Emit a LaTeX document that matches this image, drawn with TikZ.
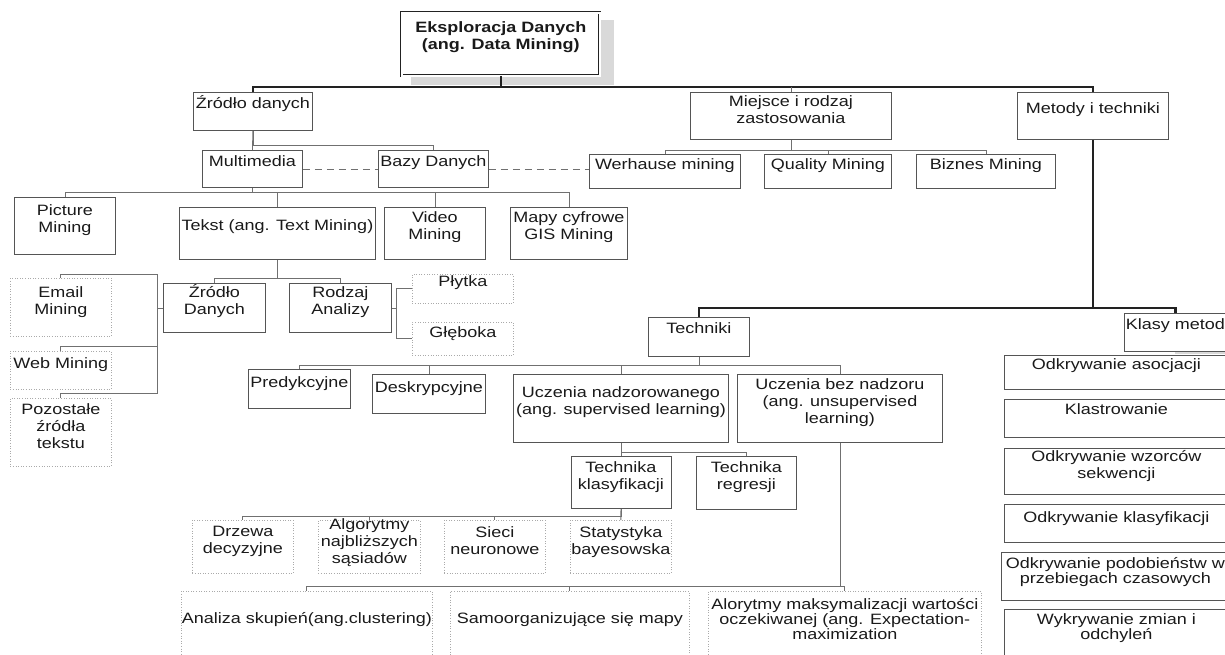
\documentclass[tikz,border=0pt]{standalone}
\usepackage{fontspec}
\setmainfont{Liberation Sans}[FakeStretch=1.2]
\definecolor{boxgray}{HTML}{555555}
\definecolor{dotgray}{HTML}{AAAAAA}
\definecolor{linegray}{HTML}{707070}
\definecolor{shadowgray}{HTML}{D9D9D9}
\definecolor{trunkgray}{HTML}{222222}
\definecolor{textgray}{HTML}{1A1A1A}
\tikzstyle{tbox} = [rectangle, draw=boxgray, line width=0.8pt, fill=white, inner sep=0pt, anchor=north west]
\tikzstyle{dotbox} = [tbox, draw=dotgray, line width=0.7pt, dash pattern=on 1pt off 1.6pt]
\tikzstyle{txt} = [anchor=north, align=center, inner sep=0pt, text=textgray, font=\fontsize{15}{17}\selectfont]
\tikzstyle{tight} = [txt, font=\fontsize{15}{15}\selectfont]
\tikzstyle{conn} = [draw=linegray, line width=0.8pt]
\tikzstyle{trunk} = [draw=trunkgray, line width=2.4pt]
\tikzset{wh/.style 2 args={minimum width=#1pt, minimum height=#2pt}}

\begin{document}
\begin{tikzpicture}[x=1pt, y=-1pt]

\useasboundingbox (0,0) rectangle (1225,654);
\fill[white] (0,0) rectangle (1225,654);
\clip (0,0) rectangle (1225,654);

% level 0
\fill[shadowgray] (411,20) rectangle (614,85);
\node (root) [tbox, wh={198}{63}, draw=trunkgray, line width=0.6pt, double=white, double distance=1.8pt, label={[txt,yshift=-9pt,font=\bfseries\fontsize{15}{17}\selectfont]north:{Eksploracja Danych\\(ang. Data Mining)}}] at (401.5,12.5) {};
\coordinate (lv1) at (0,87);

% level 1
\node (zrod) [tbox, wh={119}{38}, label={[txt,yshift=-3pt]north:Źródło danych}] at (193,92) {};
\node (miej) [tbox, wh={201}{47}, label={[txt,yshift=-3pt]north:{Miejsce i rodzaj\\zastosowania}}] at (690,92) {};
\node (meto) [tbox, wh={151}{47}, label={[txt,yshift=-10pt]north:Metody i techniki}] at (1017,92) {};

% level 2
\node (multi) [tbox, wh={100}{37}, label={[txt,yshift=-5pt]north:Multimedia}] at (202,150) {};
\node (bazy) [tbox, wh={110}{37}, label={[txt,yshift=-5pt]north:Bazy Danych}] at (378,150) {};
\node (werh) [tbox, wh={151}{34}, label={[txt,yshift=-4pt]north:Werhause mining}] at (589,154) {};
\node (qual) [tbox, wh={127}{34}, label={[txt,yshift=-4pt]north:Quality Mining}] at (764,154) {};
\node (biz) [tbox, wh={139}{34}, label={[txt,yshift=-4pt]north:Biznes Mining}] at (916,154) {};

% multimedia
\node (pic) [tbox, wh={101}{57}, label={[txt,yshift=-7pt]north:{Picture\\Mining}}] at (14,197) {};
\node (tekst) [tbox, wh={196}{52}, label={[txt,yshift=-12pt]north:Tekst (ang. Text Mining)}] at (179,207) {};
\node (video) [tbox, wh={101}{52}, label={[txt,yshift=-4pt]north:{Video\\Mining}}] at (384,207) {};
\node (mapy) [tbox, wh={117}{52}, label={[txt,yshift=-4pt]north:{Mapy cyfrowe\\GIS Mining}}] at (510,207) {};

% text mining
\node (zd) [tbox, wh={102}{49}, label={[txt,yshift=-1pt]north:{Źródło\\Danych}}] at (163,283) {};
\node (ra) [tbox, wh={102}{49}, label={[txt,yshift=-3pt]north:{Rodzaj\\Analizy}}] at (289,283) {};
\node (plyt) [dotbox, wh={101}{29}, label={[txt,yshift=-1pt]north:Płytka}] at (412,274) {};
\node (gleb) [dotbox, wh={101}{33}, label={[txt,yshift=-4pt]north:Głęboka}] at (412,322) {};
\node (email) [dotbox, wh={101}{58}, label={[txt,yshift=-8pt]north:{Email\\Mining}}] at (10,278) {};
\node (web) [dotbox, wh={101}{38}, label={[txt,yshift=-6pt]north:Web Mining}] at (10,351) {};
\node (poz) [dotbox, wh={101}{68}, label={[txt,yshift=-5pt]north:{Pozostałe\\źródła\\tekstu}}] at (10,398) {};

% metody i techniki
\fill[shadowgray] (1175,318) rectangle (1230,353.5);
\node (tech) [tbox, wh={101}{39}, label={[txt,yshift=-5pt]north:Techniki}] at (648,317) {};
\node (klasy) [tbox, wh={102}{38}, label={[txt,yshift=-5pt]north:Klasy metod}] at (1124,313) {};
\coordinate (lv2) at (0,308);

\node (pred) [tbox, wh={102}{39}, label={[txt,yshift=-7pt]north:Predykcyjne}] at (248,369) {};
\node (desk) [tbox, wh={113}{39}, label={[txt,yshift=-7pt]north:Deskrypcyjne}] at (372,374) {};
\node (ucz) [tbox, wh={215}{68}, label={[txt,yshift=-12pt]north:{Uczenia nadzorowanego\\(ang. supervised learning)}}] at (513,374) {};
\node (uczb) [tbox, wh={205}{68}, label={[txt,yshift=-4pt]north:{Uczenia bez nadzoru\\(ang. unsupervised\\learning)}}] at (737,374) {};

\node (tkl) [tbox, wh={100}{52}, label={[txt,yshift=-5pt]north:{Technika\\klasyfikacji}}] at (570.5,456) {};
\node (treg) [tbox, wh={100}{53}, label={[txt,yshift=-5pt]north:{Technika\\regresji}}] at (696,456) {};

\node (drz) [dotbox, wh={101}{53}, label={[txt,yshift=-6pt]north:{Drzewa\\decyzyjne}}] at (192,520) {};
\node (alg) [dotbox, wh={102}{53}, label={[txt,yshift=2pt]north:{Algorytmy\\najbliższych\\sąsiadów}}] at (318,520) {};
\node (sieci) [dotbox, wh={101}{53}, label={[txt,yshift=-6pt]north:{Sieci\\neuronowe}}] at (444,520) {};
\node (stat) [dotbox, wh={101}{53}, label={[txt,yshift=-6pt]north:{Statystyka\\bayesowska}}] at (570,520) {};

\node (anal) [dotbox, wh={251}{70}, label={[txt,yshift=-21pt]north:Analiza skupień(ang.clustering)}] at (181,591) {};
\node (samo) [dotbox, wh={239}{70}, label={[txt,yshift=-21pt]north:Samoorganizujące się mapy}] at (450,591) {};
\node (alo) [dotbox, wh={273}{70}, label={[tight,yshift=-7pt]north:{Alorytmy maksymalizacji wartości\\oczekiwanej (ang. Expectation-\\maximization}}] at (708,591) {};

% klasy metod
\node (odk1) [tbox, wh={224}{34}, label={[txt,yshift=-3pt]north:Odkrywanie asocjacji}] at (1004,355) {};
\node (odk2) [tbox, wh={224}{38}, label={[txt,yshift=-4pt]north:Klastrowanie}] at (1004,399) {};
\node (odk3) [tbox, wh={224}{46}, label={[txt,yshift=-2pt]north:{Odkrywanie wzorców\\sekwencji}}] at (1004,448) {};
\node (odk4) [tbox, wh={224}{38}, label={[txt,yshift=-7pt]north:Odkrywanie klasyfikacji}] at (1004,504) {};
\node (odk5) [tbox, wh={228}{48}, label={[tight,yshift=-5pt]north:{Odkrywanie podobieństw w\\przebiegach czasowych}}] at (1001,552) {};
\node (odk6) [tbox, wh={224}{60}, label={[tight,yshift=-4pt]north:{Wykrywanie zmian i\\odchyleń}}] at (1004,609) {};

% thick lines
\draw [trunk] (root.south) -- (root.south |- lv1);
\draw [trunk] (zrod.north) -- (zrod.north |- lv1) -| (meto.north);
\draw [trunk] (meto.south) -- (meto.south |- lv2);
\draw [trunk] (tech.north) -- (tech.north |- lv2) -| (klasy.north);

% thin lines
\draw [conn] (miej.north) -- (miej.north |- lv1);
\draw [conn] (zrod.south) -- (multi.north);
\draw [conn] (zrod.south) -- ++(0,15) -| (bazy.north);
\draw [conn, dash pattern=on 7pt off 5pt] (multi.east) -- (bazy.west);
\draw [conn, dash pattern=on 7pt off 5pt] (bazy.east) -- (bazy.east -| werh.west);

\draw [conn] (miej.south) -- ++(0,11) -| (werh.north);
\draw [conn] (miej.south) -- ++(0,11) -| (qual.north);
\draw [conn] (miej.south) -- ++(0,11) -| (biz.north);

\draw [conn] (multi.south) -- ++(0,5) -| (pic.north);
\draw [conn] (multi.south) -- ++(0,5) -| (tekst.north);
\draw [conn] (multi.south) -- ++(0,5) -| (video.north);
\draw [conn] (multi.south) -- ++(0,5) -| (mapy.north);

\draw [conn] (tekst.south) -- ++(0,19) -| (zd.north);
\draw [conn] (tekst.south) -- ++(0,19) -| (ra.north);
\draw [conn] (ra.east) -- ++(5,0) coordinate (rsrc);
\draw [conn] (plyt.west) -| (rsrc);
\draw [conn] (gleb.west) -| (rsrc);
\draw [conn] (zd.west) -- ++(-6,0) coordinate (lsrc);
\draw [conn] (email.north) -- ++(0,-4) -| (lsrc);
\draw [conn] (web.north) -- ++(0,-5) -| (lsrc);
\draw [conn] (poz.north) -- ++(0,-5) -| (lsrc);

\draw [conn] (tech.south) -- ++(0,9) -| (pred.north);
\draw [conn] (tech.south) -- ++(0,9) -| (desk.north);
\draw [conn] (tech.south) -- ++(0,9) -| (ucz.north);
\draw [conn] (tech.south) -- ++(0,9) -| (uczb.north);

\draw [conn] (ucz.south) -- (tkl.north);
\draw [conn] (ucz.south) -- ++(0,10) -| (treg.north);

\draw [conn] (tkl.south) -- ++(0,8) -| (drz.north);
\draw [conn] (tkl.south) -- ++(0,8) -| (alg.north);
\draw [conn] (tkl.south) -- ++(0,8) -| (sieci.north);
\draw [conn] (tkl.south) -- (stat.north);

\draw [conn] (uczb.south) -- ++(0,144) -| (anal.north);
\draw [conn] (uczb.south) -- ++(0,144) -| (samo.north);
\draw [conn] (uczb.south) -- ++(0,144) -| (alo.north);

\end{tikzpicture}
\end{document}
